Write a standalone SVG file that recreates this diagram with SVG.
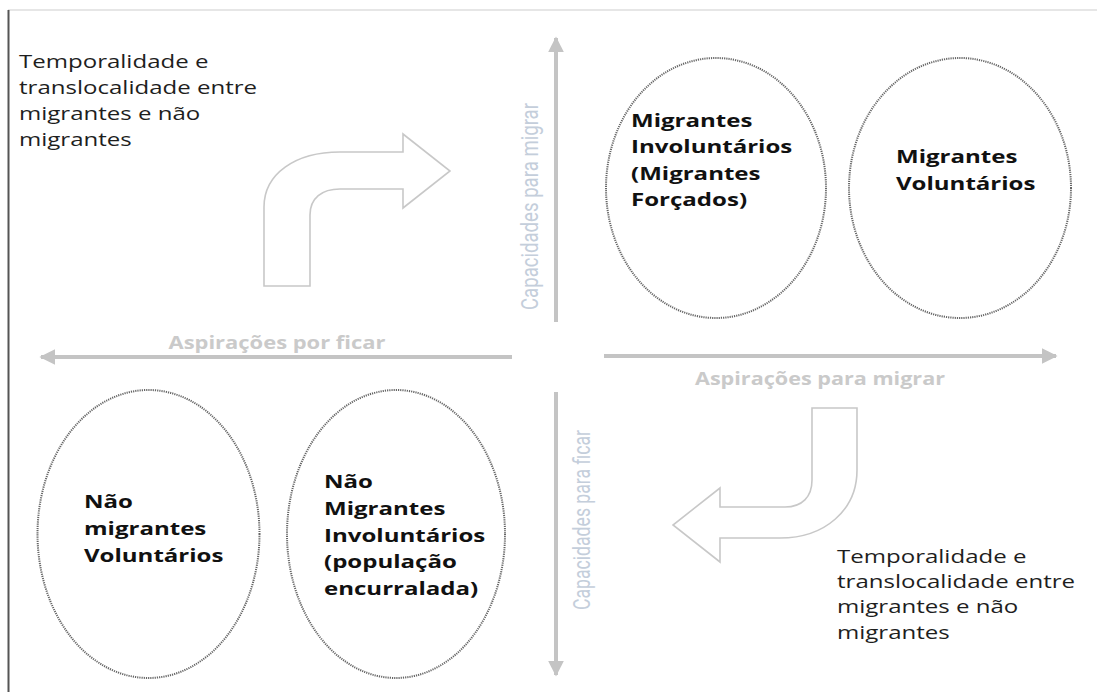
<svg xmlns="http://www.w3.org/2000/svg" width="1097" height="692" viewBox="0 0 1097 692">
<style>
.note{font-family:"Open Sans","Liberation Sans",sans-serif;font-size:18.5px;fill:#1e1e1e}
.node{font-family:"Open Sans","Liberation Sans",sans-serif;font-size:18.5px;font-weight:bold;fill:#111}
.ell{fill:none;stroke:#666;stroke-width:2;stroke-dasharray:1.2 1}
.axis{stroke:#c4c4c4;stroke-width:4;fill:none}
.axl{font-family:"Open Sans","Liberation Sans",sans-serif;font-size:18px;font-weight:bold;fill:#cacaca}
.vxl{font-family:"Liberation Sans Narrow","Roboto","Liberation Sans",sans-serif;font-size:23px;fill:#c4cedb}
.bent{fill:#fff;stroke:#c8c8c8;stroke-width:1.6}
</style>
<defs>
<marker id="ah" viewBox="0 0 10 10" refX="9" refY="5" markerWidth="4" markerHeight="4" orient="auto" markerUnits="strokeWidth">
<path d="M0,0 L10,5 L0,10 z" fill="#c4c4c4"/>
</marker>
</defs>
<rect width="1097" height="692" fill="#fff"/>
<line x1="8" y1="10" x2="1097" y2="10" stroke="#dedede" stroke-width="1.5"/>
<line x1="8.5" y1="10" x2="8.5" y2="692" stroke="#555" stroke-width="2"/>

<g id="connectors">
<line class="axis" x1="556" y1="322" x2="556" y2="38" marker-end="url(#ah)"/>
<line class="axis" x1="512" y1="357" x2="41" y2="357" marker-end="url(#ah)"/>
<line class="axis" x1="604" y1="356" x2="1056" y2="356" marker-end="url(#ah)"/>
<line class="axis" x1="556" y1="392" x2="556" y2="675" marker-end="url(#ah)"/>
<path id="bent-up" class="bent" d="M264,286 L264,207 C264,174 295,152 340,152 L403,152 L403,134 L450,171 L403,208 L403,189 L340,189 C322,189 310,198 310,215 L310,286 Z"/>
<path id="bent-down" class="bent" d="M812,408 L857,408 L857,470 C857,510 825,538 780,538 L720,538 L720,562 L673,525 L720,488 L720,507 L785,507 C802,507 812,497 812,480 Z"/>
</g>

<g id="axis-labels">
<text class="axl" x="277" y="349" text-anchor="middle" textLength="217" lengthAdjust="spacingAndGlyphs">Aspirações por ficar</text>
<text class="axl" x="820" y="385" text-anchor="middle" textLength="250" lengthAdjust="spacingAndGlyphs">Aspirações para migrar</text>
<text class="vxl" transform="translate(538,206.5) rotate(-90)" text-anchor="middle" textLength="207" lengthAdjust="spacingAndGlyphs">Capacidades para migrar</text>
<text class="vxl" transform="translate(590,520) rotate(-90)" text-anchor="middle" textLength="180" lengthAdjust="spacingAndGlyphs">Capacidades para ficar</text>
</g>

<g id="note-top" transform="translate(19,0) scale(1.3,1)">
<text class="note" x="0" y="68">Temporalidade e</text>
<text class="note" x="0" y="94">translocalidade entre</text>
<text class="note" x="0" y="120">migrantes e não</text>
<text class="note" x="0" y="146">migrantes</text>
</g>

<g id="note-bottom" transform="translate(837,0) scale(1.3,1)">
<text class="note" x="0" y="563">Temporalidade e</text>
<text class="note" x="0" y="588">translocalidade entre</text>
<text class="note" x="0" y="613">migrantes e não</text>
<text class="note" x="0" y="639">migrantes</text>
</g>

<g id="migrantes-involuntarios">
<ellipse class="ell" cx="716" cy="188" rx="110" ry="130"/>
<g transform="translate(631,0) scale(1.3,1)">
<text class="node" x="0" y="127">Migrantes</text>
<text class="node" x="0" y="153">Involuntários</text>
<text class="node" x="0" y="180">(Migrantes</text>
<text class="node" x="0" y="206">Forçados)</text>
</g>
</g>

<g id="migrantes-voluntarios">
<ellipse class="ell" cx="960" cy="188" rx="111" ry="130"/>
<g transform="translate(896,0) scale(1.3,1)">
<text class="node" x="0" y="163">Migrantes</text>
<text class="node" x="0" y="190">Voluntários</text>
</g>
</g>

<g id="nao-migrantes-voluntarios">
<ellipse class="ell" cx="148.5" cy="534" rx="111" ry="144"/>
<g transform="translate(84,0) scale(1.3,1)">
<text class="node" x="0" y="508">Não</text>
<text class="node" x="0" y="535">migrantes</text>
<text class="node" x="0" y="562">Voluntários</text>
</g>
</g>

<g id="nao-migrantes-involuntarios">
<ellipse class="ell" cx="396" cy="534" rx="109" ry="144"/>
<g transform="translate(324,0) scale(1.3,1)">
<text class="node" x="0" y="488">Não</text>
<text class="node" x="0" y="515">Migrantes</text>
<text class="node" x="0" y="542">Involuntários</text>
<text class="node" x="0" y="568">(população</text>
<text class="node" x="0" y="595">encurralada)</text>
</g>
</g>
</svg>
